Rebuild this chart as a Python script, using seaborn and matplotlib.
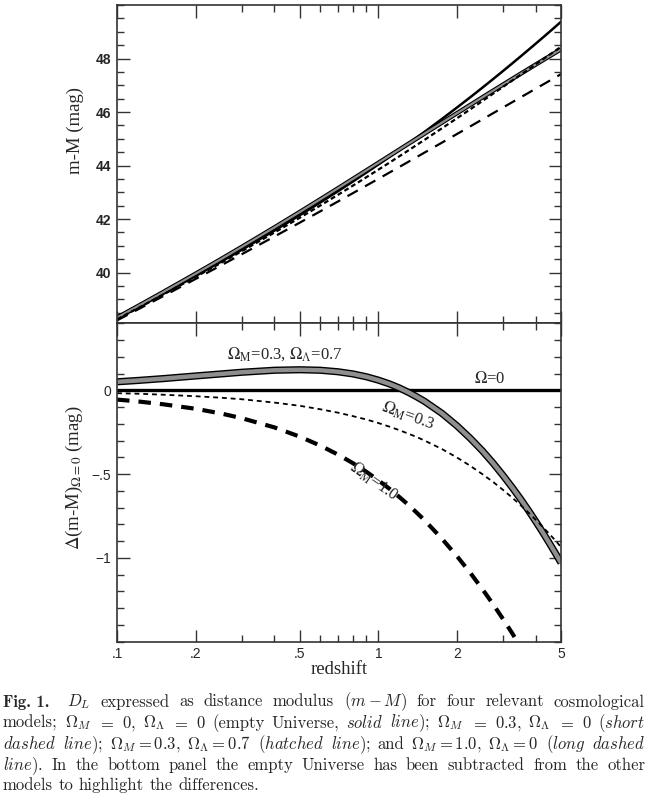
import numpy as np
import matplotlib
matplotlib.use('Agg')
import matplotlib.pyplot as plt
from matplotlib.ticker import FixedLocator, MultipleLocator, NullFormatter
import seaborn as sns

# redshift grid and distance moduli
redshift = [0.1, 0.12, 0.15, 0.2, 0.25, 0.3, 0.4, 0.5, 0.6, 0.7, 0.8, 0.9,
            1.0, 1.1, 1.2, 1.3, 1.4, 1.5, 1.75, 2.0, 2.25, 2.5, 2.75, 3.0,
            3.25, 3.5, 3.75, 4.0, 4.25, 4.5, 4.75, 5.0]
# empty universe (Omega=0), m-M in mag
mu_empty = [38.265, 38.681, 39.196, 39.871, 40.404, 40.848, 41.565, 42.138,
            42.619, 43.036, 43.405, 43.737, 44.039, 44.317, 44.575, 44.816,
            45.042, 45.254, 45.739, 46.169, 46.556, 46.909, 47.234, 47.534,
            47.814, 48.076, 48.322, 48.555, 48.775, 48.984, 49.184, 49.374]
# differences with respect to the empty universe
delta_open = [-0.017, -0.020, -0.026, -0.035, -0.044, -0.053, -0.073, -0.092,
              -0.113, -0.133, -0.154, -0.174, -0.195, -0.216, -0.237, -0.258,
              -0.278, -0.299, -0.350, -0.401, -0.451, -0.500, -0.547, -0.594,
              -0.640, -0.685, -0.729, -0.772, -0.814, -0.855, -0.895, -0.935]
delta_lcdm = [0.051, 0.059, 0.070, 0.086, 0.098, 0.108, 0.120, 0.123,
              0.120, 0.111, 0.098, 0.081, 0.061, 0.039, 0.015, -0.011,
              -0.038, -0.065, -0.137, -0.212, -0.287, -0.361, -0.435, -0.508,
              -0.579, -0.648, -0.716, -0.782, -0.846, -0.909, -0.970, -1.029]
delta_eds = [-0.055, -0.066, -0.083, -0.110, -0.138, -0.166, -0.221, -0.276,
             -0.330, -0.383, -0.435, -0.486, -0.537, -0.586, -0.635, -0.682,
             -0.729, -0.774, -0.885, -0.990, -1.090, -1.186, -1.277, -1.365,
             -1.449, -1.530, -1.608, -1.683, -1.756, -1.826, -1.893, -1.959]

x_ticks = [0.1, 0.2, 0.5, 1, 2, 5]
x_ticklabels = ['.1', '.2', '.5', '1', '2', '5']
x_minor = [0.3, 0.4, 0.6, 0.7, 0.8, 0.9, 3, 4]
top_yticks = [40, 42, 44, 46, 48]
top_yticklabels = ['40', '42', '44', '46', '48']
bot_yticks = [0, -0.5, -1]
bot_yticklabels = ['0', '\u2212.5', '\u22121']

caption_lines = [
    ['Fig. 1.', '$D_L$', 'expressed', 'as', 'distance', 'modulus', '$(m-M)$',
     'for', 'four', 'relevant', 'cosmological'],
    ['models;', r'$\Omega_M$', '$=$', '$0,$', r'$\Omega_\Lambda$', '$=$', '$0$',
     '(empty', 'Universe,', r'$\mathit{solid}$', r'$\mathit{line}$);',
     r'$\Omega_M$', '$=$', '$0.3,$', r'$\Omega_\Lambda$', '$=$', '$0$',
     r'($\mathit{short}$'],
    [r'$\mathit{dashed}$', r'$\mathit{line}$);', r'$\Omega_M = 0.3,$',
     r'$\Omega_\Lambda = 0.7$', r'($\mathit{hatched}$', r'$\mathit{line}$);',
     'and', r'$\Omega_M = 1.0,$', r'$\Omega_\Lambda = 0$', r'($\mathit{long}$',
     r'$\mathit{dashed}$'],
    [r'$\mathit{line}$).', 'In', 'the', 'bottom', 'panel', 'the', 'empty',
     'Universe', 'has', 'been', 'subtracted', 'from', 'the', 'other'],
    ['models', 'to', 'highlight', 'the', 'differences.'],
]
caption_baselines = [706.5, 727.5, 749, 770, 790]

sns.set_theme(style='ticks')
plt.rcParams['lines.scale_dashes'] = False
plt.rcParams['lines.solid_joinstyle'] = 'round'
plt.rcParams['font.family'] = ['Liberation Serif', 'DejaVu Serif']

z = np.array(redshift)
mu0 = np.array(mu_empty)

fig = plt.figure(figsize=(6.48, 7.95), dpi=100)
ax_top = fig.add_axes([0.1806, 0.5933, 0.6852, 0.4004])
ax_bot = fig.add_axes([0.1806, 0.1928, 0.6852, 0.4005])

GRAY = '#8f8f8f'


def band(ax, y, outer, inner):
    # "hatched" line: grey core with black edges
    sns.lineplot(x=z, y=y, ax=ax, color='black', lw=outer, errorbar=None,
                 solid_capstyle='butt')
    sns.lineplot(x=z, y=y, ax=ax, color=GRAY, lw=inner, errorbar=None,
                 solid_capstyle='butt')


# ---- top panel: m-M
sns.lineplot(x=z, y=mu0, ax=ax_top, color='black', lw=1.8, errorbar=None)
sns.lineplot(x=z, y=mu0 + np.array(delta_eds), ax=ax_top, color='black',
             lw=1.6, errorbar=None, linestyle=(0, (8.5, 6)))
band(ax_top, mu0 + np.array(delta_lcdm), 3.2, 1.6)
sns.lineplot(x=z, y=mu0 + np.array(delta_open), ax=ax_top, color='black',
             lw=1.6, errorbar=None, linestyle=(0, (3.5, 2.2)))

# ---- bottom panel: difference to empty universe
sns.lineplot(x=z, y=np.zeros_like(z), ax=ax_bot, color='black', lw=2.4,
             errorbar=None)
sns.lineplot(x=z, y=delta_eds, ax=ax_bot, color='black', lw=3.0,
             errorbar=None, linestyle=(0, (9, 6.5)))
band(ax_bot, delta_lcdm, 5.2, 3.2)
sns.lineplot(x=z, y=delta_open, ax=ax_bot, color='black', lw=1.3,
             errorbar=None, linestyle=(0, (3.5, 2.8)))

ann = dict(fontsize=12, family='Liberation Serif', math_fontfamily='stix',
           ha='center', va='center', rotation_mode='anchor')
ax_bot.text(0.44, 0.214, r'$\Omega_\mathrm{M}$=0.3, $\Omega_\Lambda$=0.7', **ann)
ax_bot.text(2.67, 0.065, r'$\Omega$=0', **ann)
ax_bot.text(1.30, -0.149, r'$\Omega_\mathrm{M}$=0.3', rotation=-20, **ann)
ax_bot.text(0.962, -0.54, r'$\Omega_\mathrm{M}$=1.0', rotation=-35, **ann)

for ax in (ax_top, ax_bot):
    ax.set_xscale('log')
    ax.set_xlim(0.1, 5)
    ax.set_xticks(x_ticks)
    ax.xaxis.set_minor_locator(FixedLocator(x_minor))
    ax.xaxis.set_minor_formatter(NullFormatter())
    ax.tick_params(which='both', direction='in', top=True, right=True,
                   color='#333333', width=1.0, pad=4)
    ax.tick_params(which='major', length=9)
    ax.tick_params(which='minor', length=5)
    for s in ax.spines.values():
        s.set_color('#333333')
        s.set_linewidth(1.2)

ax_top.set_ylim(38.1, 50.0)
ax_top.set_yticks(top_yticks)
ax_top.set_yticklabels(top_yticklabels, family='Liberation Sans',
                       fontweight='bold', fontsize=10)
ax_top.yaxis.set_minor_locator(MultipleLocator(0.5))
ax_top.set_xticklabels([])
ax_top.set_xlabel('')
ax_top.set_ylabel('m-M (mag)', fontsize=13.5)
ax_top.yaxis.set_label_coords(-0.075, 0.607)

ax_bot.set_ylim(-1.5, 0.4)
ax_bot.set_yticks(bot_yticks)
ax_bot.set_yticklabels(bot_yticklabels, family='Liberation Sans', fontsize=10)
ax_bot.yaxis.set_minor_locator(MultipleLocator(0.1))
ax_bot.set_xticklabels(x_ticklabels, family='Liberation Sans', fontsize=10)
ax_bot.set_xlabel('redshift', fontsize=13.5)
ax_bot.xaxis.set_label_coords(0.5, -0.06)
ax_bot.set_ylabel(r'$\Delta$(m-M)$_{\Omega=0}$ (mag)', fontsize=13.5,
                  math_fontfamily='stix')
ax_bot.yaxis.set_label_coords(-0.072, 0.515)

# ---- caption, justified line by line
fig.canvas.draw()
renderer = fig.canvas.get_renderer()
W, H = fig.bbox.width, fig.bbox.height
left_px, right_px = 3.0, 645.0
for i, (tokens, base) in enumerate(zip(caption_lines, caption_baselines)):
    texts = []
    for j, tok in enumerate(tokens):
        fam = 'cmb10' if (i == 0 and j == 0) else 'cmr10'
        texts.append(fig.text(0, 1 - base / H, tok, fontsize=12, family=fam,
                              math_fontfamily='cm', ha='left', va='baseline'))
    widths = [t.get_window_extent(renderer).width for t in texts]
    extra = 8.0 if i == 0 else 0.0
    if i == len(caption_lines) - 1:
        gap = 5.5
    else:
        gap = (right_px - left_px - sum(widths) - extra) / (len(texts) - 1)
    x = left_px
    for j, (t, w) in enumerate(zip(texts, widths)):
        t.set_x(x / W)
        x += w + gap + (extra if j == 0 else 0.0)

fig.savefig('out.png', dpi=100)
